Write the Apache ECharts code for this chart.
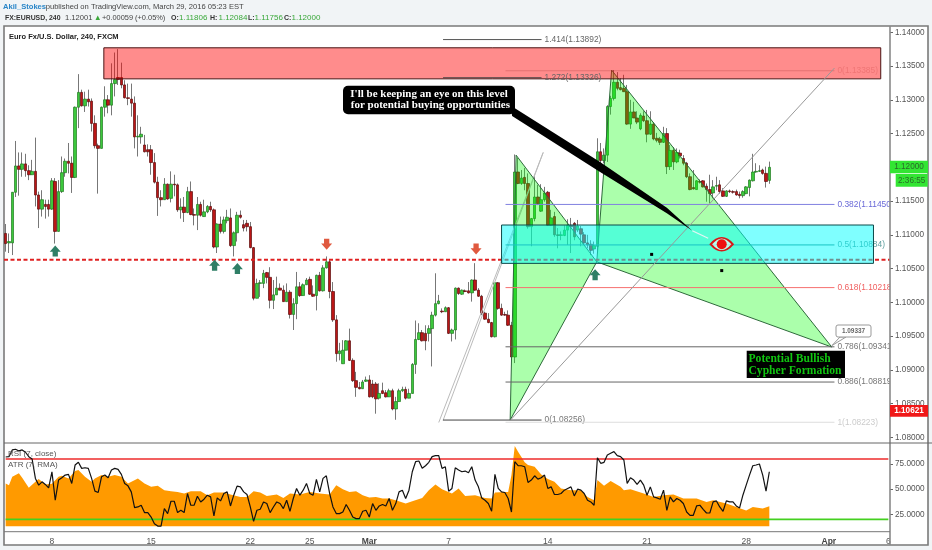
<!DOCTYPE html>
<html><head><meta charset="utf-8">
<script src="https://cdn.jsdelivr.net/npm/echarts@6/dist/echarts.min.js"></script>
<style>html,body{margin:0;padding:0;background:#f1f4f6}#c{width:932px;height:550px}</style>
</head><body><div id="c"></div>
<script>
const opens=[
1.1102,1.1088,1.1088,1.1163,1.1202,1.1197,1.1205,1.1195,1.1189,1.1194,
1.1159,1.1138,1.1145,1.1145,1.1138,1.1179,1.1105,1.1164,1.1192,1.1209,
1.1206,1.1185,1.1289,1.1311,1.1291,1.1301,1.1298,1.1265,1.1232,1.1228,
1.1289,1.1300,1.1292,1.1324,1.1333,1.1333,1.1322,1.1303,1.1301,1.1295,
1.1245,1.1245,1.1233,1.1226,1.1226,1.1207,1.1178,1.1155,1.1152,1.1175,
1.1154,1.1175,1.1174,1.1137,1.1141,1.1133,1.1164,1.1130,1.1129,1.1145,
1.1127,1.1134,1.1142,1.1137,1.1082,1.1116,1.1105,1.1121,1.1125,1.1084,
1.1103,1.1129,1.1115,1.1117,1.1112,1.1081,1.1006,1.1028,1.1028,1.1044,
1.1037,1.1003,1.1011,1.1021,1.1018,1.1001,1.1015,1.0982,1.0998,1.1023,
1.1010,1.1026,1.1034,1.1012,1.1010,1.1040,1.1017,1.1051,1.1060,1.1016,
1.0974,1.0924,1.0909,1.0929,1.0943,1.0914,1.0884,1.0874,1.0872,1.0883,
1.0885,1.0879,1.0879,1.0858,1.0869,1.0866,1.0860,1.0869,1.0842,1.0853,
1.0869,1.0871,1.0858,1.0865,1.0908,1.0945,1.0955,1.0954,1.0954,1.0961,
1.0981,1.0998,1.0987,1.0986,1.0992,1.0954,1.0959,1.1021,1.1012,1.1017,
1.1017,1.1014,1.1033,1.1018,1.1009,1.0984,1.0975,1.0970,1.0949,1.1029,
1.0991,1.0982,1.0981,1.0966,1.0919,1.1193,1.1176,1.1185,1.1176,1.1112,
1.1124,1.1156,1.1135,1.1152,1.1163,1.1114,1.1127,1.1100,1.1099,1.1099,
1.1107,1.1114,1.1117,1.1107,1.1109,1.1100,1.1088,1.1086,1.1079,1.1083,
1.1223,1.1210,1.1218,1.1290,1.1302,1.1326,1.1318,1.1317,1.1312,1.1264,
1.1282,1.1273,1.1257,1.1276,1.1269,1.1249,1.1264,1.1243,1.1242,1.1237,
1.1250,1.1201,1.1225,1.1208,1.1221,1.1213,1.1206,1.1186,1.1170,1.1167,
1.1179,1.1180,1.1172,1.1167,1.1162,1.1172,1.1174,1.1165,1.1157,1.1165,
1.1164,1.1164,1.1160,1.1158,1.1161,1.1170,1.1180,1.1193,1.1194,1.1196,1.1191,1.11806];
const closes=[
1.1087,1.1090,1.1163,1.1202,1.1197,1.1205,1.1195,1.1189,1.1194,1.1159,
1.1138,1.1152,1.1142,1.1138,1.1180,1.1105,1.1164,1.1192,1.1209,1.1206,
1.1185,1.1289,1.1311,1.1291,1.1301,1.1297,1.1265,1.1232,1.1228,1.1289,
1.1300,1.1292,1.1324,1.1330,1.1330,1.1322,1.1303,1.1302,1.1295,1.1245,
1.1246,1.1249,1.1223,1.1223,1.1207,1.1178,1.1155,1.1152,1.1175,1.1153,
1.1175,1.1174,1.1137,1.1141,1.1133,1.1164,1.1130,1.1129,1.1145,1.1129,
1.1134,1.1142,1.1137,1.1082,1.1116,1.1105,1.1122,1.1126,1.1084,1.1103,
1.1129,1.1126,1.1110,1.1112,1.1081,1.1006,1.1028,1.1029,1.1043,1.1037,
1.1003,1.1011,1.1021,1.1018,1.1001,1.1015,1.0982,1.0998,1.1023,1.1010,
1.1026,1.1033,1.1012,1.1009,1.1040,1.1017,1.1051,1.1060,1.1016,1.0974,
1.0924,1.0928,1.0929,1.0943,1.0914,1.0884,1.0874,1.0872,1.0882,1.0885,
1.0860,1.0860,1.0857,1.0865,1.0865,1.0860,1.0869,1.0842,1.0853,1.0869,
1.0871,1.0858,1.0865,1.0908,1.0945,1.0955,1.0943,1.0943,1.0961,1.0981,
1.0998,1.1002,1.0986,1.0992,1.0954,1.0959,1.1021,1.1013,1.1018,1.1016,
1.1014,1.1033,1.1018,1.1009,1.0984,1.0975,1.0970,1.0949,1.1029,1.0991,
1.0981,1.0981,1.0966,1.0919,1.1193,1.1176,1.1184,1.1176,1.1112,1.1124,
1.1156,1.1146,1.1152,1.1162,1.1114,1.1125,1.1100,1.1099,1.1100,1.1107,
1.1114,1.1112,1.1097,1.1113,1.1101,1.1088,1.1085,1.1077,1.1084,1.1223,
1.1210,1.1218,1.1290,1.1302,1.1326,1.1317,1.1315,1.1312,1.1264,1.1282,
1.1273,1.1267,1.1277,1.1269,1.1249,1.1264,1.1242,1.1240,1.1237,1.1250,
1.1201,1.1225,1.1208,1.1222,1.1217,1.1206,1.1186,1.1167,1.1168,1.1180,
1.1178,1.1171,1.1167,1.1161,1.1171,1.1173,1.1164,1.1157,1.1165,1.1164,
1.1163,1.1159,1.1158,1.1164,1.1171,1.1181,1.1193,1.1194,1.1195,1.1191,1.1179,1.1200];
const lows=[
1.1075,1.1073,1.1070,1.1156,1.1158,1.1186,1.1186,1.1181,1.1189,1.1142,
1.1110,1.1127,1.1124,1.1127,1.1137,1.1087,1.1105,1.1162,1.1186,1.1191,
1.1162,1.1184,1.1258,1.1290,1.1282,1.1290,1.1253,1.1228,1.1161,1.1228,
1.1275,1.1280,1.1277,1.1305,1.1322,1.1317,1.1302,1.1292,1.1275,1.1228,
1.1216,1.1235,1.1222,1.1216,1.1189,1.1176,1.1128,1.1142,1.1152,1.1152,
1.1148,1.1157,1.1134,1.1124,1.1119,1.1132,1.1129,1.1114,1.1107,1.1127,
1.1127,1.1132,1.1134,1.1080,1.1073,1.1102,1.1102,1.1117,1.1082,1.1068,
1.1090,1.1124,1.1105,1.1105,1.1080,1.1003,1.1006,1.1008,1.1021,1.1028,
1.0991,1.0990,1.1011,1.1018,1.1001,1.1001,1.0976,1.0959,1.0975,1.1008,
1.1010,1.1026,1.1011,1.1008,1.0988,1.1016,1.1016,1.1050,1.1006,1.0971,
1.0912,1.0914,1.0909,1.0929,1.0913,1.0882,1.0860,1.0871,1.0872,1.0882,
1.0859,1.0858,1.0835,1.0856,1.0864,1.0859,1.0860,1.0840,1.0826,1.0853,
1.0867,1.0856,1.0858,1.0865,1.0894,1.0944,1.0942,1.0929,1.0942,1.0905,
1.0979,1.0997,1.0984,1.0986,1.0953,1.0942,1.0945,1.1011,1.1011,1.1015,
1.1013,1.1001,1.1017,1.1008,1.0981,1.0974,1.0969,1.0948,1.0948,1.0989,
1.0980,1.0980,1.0965,1.0917,1.0910,1.1175,1.1174,1.1166,1.1109,1.1083,
1.1120,1.1144,1.1134,1.1149,1.1113,1.1113,1.1097,1.1080,1.1092,1.1098,
1.1085,1.1073,1.1092,1.1104,1.1083,1.1085,1.1080,1.1070,1.1072,1.1077,
1.1196,1.1206,1.1208,1.1278,1.1299,1.1314,1.1314,1.1312,1.1263,1.1257,
1.1273,1.1264,1.1255,1.1267,1.1237,1.1248,1.1240,1.1237,1.1233,1.1236,
1.1190,1.1196,1.1196,1.1206,1.1213,1.1203,1.1184,1.1166,1.1167,1.1167,
1.1176,1.1170,1.1149,1.1147,1.1154,1.1166,1.1161,1.1156,1.1156,1.1162,
1.1161,1.1158,1.1154,1.1155,1.1160,1.1157,1.1179,1.1192,1.1193,1.1189,1.1170,1.11756];
const highs=[
1.1116,1.1102,1.1163,1.1239,1.1222,1.1222,1.1220,1.1203,1.1211,1.1244,
1.1164,1.1166,1.1152,1.1152,1.1184,1.1184,1.1181,1.1216,1.1213,1.1236,
1.1216,1.1290,1.1338,1.1315,1.1312,1.1315,1.1302,1.1277,1.1235,1.1290,
1.1320,1.1307,1.1354,1.1370,1.1375,1.1355,1.1329,1.1324,1.1324,1.1305,
1.1277,1.1260,1.1248,1.1234,1.1233,1.1221,1.1186,1.1166,1.1184,1.1176,
1.1194,1.1189,1.1176,1.1154,1.1156,1.1171,1.1179,1.1139,1.1156,1.1149,
1.1152,1.1144,1.1149,1.1139,1.1117,1.1127,1.1127,1.1137,1.1139,1.1105,
1.1134,1.1136,1.1122,1.1122,1.1119,1.1082,1.1035,1.1033,1.1048,1.1045,
1.1052,1.1033,1.1038,1.1028,1.1025,1.1028,1.1018,1.1006,1.1045,1.1030,
1.1028,1.1036,1.1038,1.1025,1.1041,1.1045,1.1055,1.1068,1.1064,1.1030,
1.0981,1.0940,1.0944,1.0944,1.0961,1.0917,1.0897,1.0882,1.0885,1.0890,
1.0892,1.0885,1.0882,1.0880,1.0881,1.0870,1.0872,1.0872,1.0860,1.0872,
1.0875,1.0875,1.0872,1.0910,1.0973,1.0969,1.0959,1.0966,1.0966,1.0986,
1.1043,1.1011,1.0991,1.0994,1.0993,1.0961,1.1022,1.1022,1.1019,1.1019,
1.1030,1.1034,1.1058,1.1021,1.1011,1.0986,1.0984,1.0971,1.1030,1.1030,
1.0998,1.0986,1.0988,1.0971,1.1219,1.1214,1.1196,1.1199,1.1191,1.1125,
1.1189,1.1174,1.1175,1.1171,1.1165,1.1137,1.1134,1.1110,1.1105,1.1114,
1.1123,1.1125,1.1119,1.1122,1.1113,1.1104,1.1100,1.1092,1.1090,1.1243,
1.1236,1.1228,1.1292,1.1306,1.1344,1.1341,1.1332,1.1337,1.1322,1.1300,
1.1297,1.1283,1.1280,1.1283,1.1285,1.1283,1.1267,1.1251,1.1245,1.1260,
1.1258,1.1233,1.1230,1.1228,1.1226,1.1218,1.1208,1.1191,1.1196,1.1181,
1.1182,1.1181,1.1176,1.1189,1.1181,1.1186,1.1181,1.1169,1.1166,1.1167,
1.1166,1.1167,1.1164,1.1166,1.1172,1.1182,1.1220,1.1206,1.1203,1.1198,1.1201,1.12084];
const rsiValues=[
82,82.3,89,89.7,88,89,86.7,82.3,80,60.7,54,57.3,54.7,51.3,67.3,39,59,61.3,64,64.7,
55.7,74,76.7,70.7,71.3,70.7,60.7,48,46.7,62.3,64,61.3,69,70.7,69.7,64.7,55.7,53.3,47.3,31.7,
32.3,34,26.7,26.7,22.3,15.7,13.3,13.3,30.7,25.7,38,38,26.7,29,26.7,45.7,34,34,43,37.3,
40,44,42.3,23.3,41.3,38.3,45.7,47.3,33.3,44,53,52.3,47.3,44.7,32.3,18,29,30,37.3,35.7,
26.7,32.3,37.3,35.7,30.7,39,28,40.7,50.7,44,49,55.7,45.7,44,59.7,47.3,60.7,63.3,45.7,32.3,
25.7,25.7,27.3,34.7,29,22.3,20.7,20.7,28,29,22.3,35.7,29,33.3,34.7,33.3,40.7,29,35.7,47.3,
49,40.7,49,67.3,77.3,78,70.7,73.3,76.7,82.3,83.3,83.3,70.7,72.3,48,50.7,71.3,69,67.3,68,
66.3,72.3,59,52.3,41.3,39,35.7,28,64.7,50.7,47.3,46.7,40.7,27.3,77.3,73.3,73.3,72.3,56.7,59,
63.3,60,61.3,64,50.7,52.3,44.7,44.7,45.7,49,50.7,52.3,43.3,50,49,45.7,39,37.3,34,81.3,
75.7,76.7,84,85.7,87.3,83.3,82.3,79,55.7,61.3,59,54.7,59,54,44,52.3,42.3,41.3,40,49,
29,42.3,37.3,40.7,39,35.7,27.3,24,24,33.3,34,30,26.3,26.3,37.3,38.3,32.3,28,38.3,37.3,
37.3,33.3,31.3,44,54,64,73.3,74,75,64,48,67.3];
const atrBars=[0,1,2,4,5,7,9,10,12,14,16,17,19,21,22,24,26,27,29,31,33,35,37,40,42,44,46,48,50,52,54,56,59,61,63,66,68,71,73,75,77,79,82,84,86,89,92,95,98,100,102,104,106,108,110,112,114,116,118,121,123,126,128,130,132,135,137,139,142,145,147,148,151,152,153,154,155,157,158,160,162,164,166,168,171,174,176,178,179,181,183,186,187,189,193,196,199,202,205,209,212,214,218,221,224,226,229,231];
const atrValues=[55.7,54,62.3,65.7,61.3,51.3,57.3,60,54.7,55.3,62.3,63.3,60.7,68,69,62.3,57.3,60.7,64,62.3,64,62.3,55.7,60.7,55.7,52.3,53.3,49,48,47.3,45.7,48,48,44,46.7,46.7,44.7,42.3,42.3,48,46.7,43.3,44.7,41.3,45.7,44.7,47.3,45.7,44.7,54,50,47.3,48,44,41.7,42.3,40.7,40.7,39,35.7,38,41.3,49,54.7,50,45.7,50.7,43.3,44,41.3,40.7,46.7,47.3,47.3,64,93,87.3,76.7,74,72.3,64.7,60,57.3,50.7,49,49,42.3,39,59,53.3,58,52.3,49,50,45.7,42.3,44,44.7,40.7,40.7,37.3,39,35.7,32.3,28.7,32.3,30.7,33];
const rsiUpper=[80];
const rsiLower=[20];
const atrFloor=[13];

const tickBars=[14,44,74,92,110,134,164,194,224,249,267];
const tickLabels=['8','15','22','25','Mar','7','14','21','28','Apr','6'];
const priceTicks=[1.08,1.085,1.09,1.095,1.10,1.105,1.11,1.115,1.12,1.125,1.13,1.135,1.14];
const rsiTicks=[25,50,75];

const redZoneBars=[29.7,264.7,264.7,29.7];
const redZonePrices=[1.1377,1.1377,1.1331,1.1331];
const cyanZoneBars=[150,262.5,262.5,150];
const cyanZonePrices=[1.11145,1.11145,1.10577,1.10577];
const xabBars=[152.6,154.4,178.8];
const xabPrices=[1.08256,1.1218,1.1060];
const bcdBars=[178.8,183.3,249.9];
const bcdPrices=[1.1060,1.1344,1.09337];
const calloutArrowBars=[152.6,179.8,200,207.7,200,179.8,153.2];
const calloutArrowPrices=[1.1292,1.1208,1.1140,1.1106,1.1132,1.1193,1.1276];
const calloutTipBars=[207.7,212.5];
const calloutTipPrices=[1.1106,1.1095];
const supportBars=[-0.5,267.5];
const supportPrices=[1.1063,1.1063];
const trendABars=[131,162.6];
const trendAPrices=[1.0822,1.1222];
const trendBBars=[132.3,162.6];
const trendBPrices=[1.0825,1.1222];
const trendCBars=[152.6,250.7];
const trendCPrices=[1.0825,1.1347];

const fibTexts=['1.414(1.13892)','1.272(1.13326)','0(1.08256)','0(1.13385)','0.382(1.11450)','0.5(1.10884)','0.618(1.10218)','0.786(1.09341)','0.886(1.08819)','1(1.08223)'];
const fibPrices=[1.13892,1.13326,1.08256,1.1343,1.1145,1.1085,1.10218,1.09341,1.08819,1.08223];
const fibFrom=[132.3,132.3,132.3,151.2,151.2,151.2,151.2,151.2,151.2,151.2];
const fibTo=[162.1,162.1,162.1,250.7,250.7,250.7,250.7,250.7,250.7,250.7];
const fibLineColors=['#555','#444','#444','rgba(150,40,40,.25)','#8080e0','#2f8a8a','#f77070','#666','#666','#ddd'];
const fibTextColors=['#666','#666','#777','rgba(220,90,90,.45)','#6a6ad8','#5f9f9f','#f06060','#777','#777','#ccc'];

const upArrowBars=[15,63.2,70.1,178.3];
const upArrowPrices=[1.1076,1.1055,1.1050,1.1041];
const downArrowBars=[97.1,142.3];
const downArrowPrices=[1.1086,1.1079];
const dotBars=[195.4,216.6];
const dotPrices=[1.1071,1.1047];
const eyeBars=[216.6];
const eyePrices=[1.1086];

const chart=echarts.init(document.getElementById('c'),null,{renderer:'canvas',width:932,height:550});
const FONT='"Liberation Sans",Arial,sans-serif';
const barCount=268;
const categoriesAll=Array.from({length:barCount},(_,i)=>{const k=tickBars.indexOf(i);return k<0?'':tickLabels[k];});
const candleRows=opens.map((o,i)=>[o,closes[i],lows[i],highs[i]]);
const bodyRows=opens.map((o,i)=>[o,closes[i],Math.min(o,closes[i]),Math.max(o,closes[i])]);

function polySeries(bars,prices,style,z,closed){
  const rows=bars.map((b,k)=>[b,prices[k]]);
  return {type:'custom',xAxisIndex:1,yAxisIndex:0,z,clip:true,silent:true,data:rows,
    renderItem(params,api){
      if(params.dataIndex!==0)return null;
      const points=rows.map(r=>api.coord(r));
      return {type:closed?'polygon':'polyline',shape:{points},style:Object.assign({},style),z2:1};
    }};
}
const fibRows=fibPrices.map((p,i)=>[fibFrom[i],fibTo[i],p,i]);
const fibSeries={type:'custom',xAxisIndex:1,yAxisIndex:0,z:6,clip:true,silent:true,data:fibRows,encode:{x:0,y:2},
  renderItem(params,api){
    const r=fibRows[params.dataIndex];
    const a=api.coord([r[0],r[2]]),b=api.coord([r[1],r[2]]);
    return {type:'group',children:[
      {type:'line',shape:{x1:a[0],y1:a[1],x2:b[0],y2:b[1]},style:{stroke:fibLineColors[r[3]],lineWidth:1}},
      {type:'text',style:{x:b[0]+3,y:b[1],text:fibTexts[r[3]],fill:fibTextColors[r[3]],font:'8.4px '+FONT,verticalAlign:'middle'}}
    ]};
  }};
const catchBars=(bars,prices)=>bars.map((b,k)=>[b,prices[k]]);
const arrowPath='path://M5,0 L10,5.6 L7.4,5.6 L7.4,10 L2.6,10 L2.6,5.6 L0,5.6 Z';

const option={
  animation:false,backgroundColor:'#f1f4f6',
  grid:[{left:4,top:26,width:886,height:417},{left:4,top:443,width:886,height:88.7}],
  xAxis:[
    {type:'category',gridIndex:0,data:categoriesAll,boundaryGap:true,show:false},
    {type:'value',gridIndex:0,min:-0.5,max:267.5,show:false},
    {type:'category',gridIndex:1,data:categoriesAll,boundaryGap:true,
      axisLine:{show:false},
      axisTick:{alignWithLabel:true,interval:(i,v)=>v!=='',length:3,lineStyle:{color:'#666'}},
      axisLabel:{interval:(i,v)=>v!=='',hideOverlap:false,margin:5,color:'#555',fontFamily:FONT,fontSize:8.5,
        formatter:v=>(v==='Mar'||v==='Apr')?'{b|'+v+'}':v,rich:{b:{fontWeight:'bold',color:'#444',fontFamily:FONT,fontSize:8.5}}}}
  ],
  yAxis:[
    {type:'value',gridIndex:0,position:'right',min:1.07916,max:1.14093,splitLine:{show:false},
      axisLine:{show:false,onZero:false},
      axisTick:{show:true,customValues:priceTicks,length:3,lineStyle:{color:'#666'}},
      axisLabel:{customValues:priceTicks,formatter:v=>v.toFixed(5),color:'#555',fontFamily:FONT,fontSize:8.2,margin:5}},
    {type:'value',gridIndex:1,position:'right',min:7.7,max:95.9,splitLine:{show:false},
      axisLine:{show:false,onZero:false},
      axisTick:{show:true,customValues:rsiTicks,length:3,lineStyle:{color:'#666'}},
      axisLabel:{customValues:rsiTicks,formatter:v=>v.toFixed(4),color:'#555',fontFamily:FONT,fontSize:8.2,margin:5}}
  ],
  series:[
    {type:'candlestick',xAxisIndex:0,yAxisIndex:0,z:2,barWidth:1,data:candleRows,silent:true,
      itemStyle:{color:'#777',color0:'#777',borderColor:'#777',borderColor0:'#777',borderWidth:1}},
    {type:'candlestick',xAxisIndex:0,yAxisIndex:0,z:3,barWidth:3,data:bodyRows,silent:true,
      itemStyle:{color:'#3cc83c',color0:'#bb1616',borderColor:'#1f7a1f',borderColor0:'#5c0c0c',borderWidth:0.7}},
    polySeries(trendABars,trendAPrices,{stroke:'#bbb',lineWidth:1,fill:null},4,false),
    polySeries(trendBBars,trendBPrices,{stroke:'#bbb',lineWidth:1,fill:null},4,false),
    polySeries(xabBars,xabPrices,{fill:'rgba(0,255,0,.33)',stroke:'#2d6a3a',lineWidth:1},5,true),
    polySeries(bcdBars,bcdPrices,{fill:'rgba(0,255,0,.33)',stroke:'#2d6a3a',lineWidth:1},5,true),
    polySeries(redZoneBars,redZonePrices,{fill:'rgba(255,0,0,.45)',stroke:'#4a1414',lineWidth:1},5,true),
    polySeries(supportBars,supportPrices,{stroke:'#e02020',lineWidth:2,lineDash:[4,2.5],fill:null},5.5,false),
    fibSeries,
    polySeries(cyanZoneBars,cyanZonePrices,{fill:'rgba(0,255,255,.5)',stroke:'#0d4a4a',lineWidth:1},6,true),
    polySeries(trendCBars,trendCPrices,{stroke:'#999',lineWidth:1,fill:null},7,false),
    polySeries(calloutArrowBars,calloutArrowPrices,{fill:'#000'},8,true),
    polySeries(calloutTipBars,calloutTipPrices,{stroke:'#e6f5f5',lineWidth:1.2,fill:null},8,false),
    {type:'scatter',xAxisIndex:1,yAxisIndex:0,z:9,silent:true,symbol:arrowPath,symbolSize:11,data:catchBars(upArrowBars,upArrowPrices),itemStyle:{color:'#2f7f66',opacity:1}},
    {type:'scatter',xAxisIndex:1,yAxisIndex:0,z:9,silent:true,symbol:arrowPath,symbolRotate:180,symbolSize:11,data:catchBars(downArrowBars,downArrowPrices),itemStyle:{color:'#e0593f',opacity:1}},
    {type:'scatter',xAxisIndex:1,yAxisIndex:0,z:9,silent:true,symbol:'rect',symbolSize:3,data:catchBars(dotBars,dotPrices),itemStyle:{color:'#000',opacity:1}},
    {type:'scatter',xAxisIndex:1,yAxisIndex:0,z:9,silent:true,symbol:'path://M0,50 Q50,-10 100,50 Q50,110 0,50 Z',symbolSize:[22,13],data:catchBars(eyeBars,eyePrices),itemStyle:{color:'rgba(255,255,255,.6)',borderColor:'#d81818',borderWidth:2,opacity:1}},
    {type:'scatter',xAxisIndex:1,yAxisIndex:0,z:10,silent:true,symbol:'circle',symbolSize:10,data:catchBars(eyeBars,eyePrices),itemStyle:{color:'#ee1111',opacity:1}},
    {type:'line',xAxisIndex:2,yAxisIndex:1,z:2,silent:true,symbol:'none',data:atrBars.map((b,k)=>[b,atrValues[k]]),
      lineStyle:{width:0},areaStyle:{color:'#ff9a00',opacity:1,origin:atrFloor[0]}},
    {type:'line',xAxisIndex:2,yAxisIndex:1,z:3,silent:true,symbol:'none',data:[[0,rsiUpper[0]],[267,rsiUpper[0]]],lineStyle:{color:'#ee2b2b',width:1.4}},
    {type:'line',xAxisIndex:2,yAxisIndex:1,z:3,silent:true,symbol:'none',data:[[0,rsiLower[0]],[267,rsiLower[0]]],lineStyle:{color:'#44d020',width:1.6}},
    {type:'line',xAxisIndex:2,yAxisIndex:1,z:4,silent:true,symbol:'none',data:rsiValues,lineStyle:{color:'#111',width:1.2}}
  ],
  graphic:{elements:[
    {type:'rect',z:-1,silent:true,shape:{x:4,y:26,width:924,height:519},style:{fill:'#fff',stroke:'#7a7a7a',lineWidth:1.6}},
    {type:'line',z:20,silent:true,shape:{x1:890,y1:26,x2:890,y2:545},style:{stroke:'#8a8a8a',lineWidth:1.6}},
    {type:'line',z:20,silent:true,shape:{x1:4,y1:443,x2:932,y2:443},style:{stroke:'#666',lineWidth:1}},
    {type:'line',z:20,silent:true,shape:{x1:4,y1:531.7,x2:890,y2:531.7},style:{stroke:'#777',lineWidth:1}},
    {type:'text',z:30,silent:true,style:{x:3,y:7,verticalAlign:'middle',text:'Akil_Stokes',fill:'#2a86c8',font:'bold 7.6px '+FONT}},
    {type:'text',z:30,silent:true,style:{x:45.7,y:7,verticalAlign:'middle',text:'published on TradingView.com, March 29, 2016 05:23 EST',fill:'#444',font:'7.6px '+FONT}},
    {type:'text',z:30,silent:true,style:{x:5,y:18,verticalAlign:'middle',text:'FX:EURUSD, 240',fill:'#333',font:'bold 6.9px '+FONT}},
    {type:'text',z:30,silent:true,style:{x:65,y:18,verticalAlign:'middle',text:'1.12001',fill:'#444',font:'7.6px '+FONT}},
    {type:'text',z:30,silent:true,style:{x:94,y:18,verticalAlign:'middle',text:'▲',fill:'#3aa83a',font:'7.6px '+FONT}},
    {type:'text',z:30,silent:true,style:{x:102,y:18,verticalAlign:'middle',text:'+0.00059 (+0.05%)',fill:'#444',font:'7.4px '+FONT}},
    {type:'text',z:30,silent:true,style:{x:171,y:18,verticalAlign:'middle',text:'O:',fill:'#333',font:'bold 7px '+FONT}},
    {type:'text',z:30,silent:true,style:{x:179,y:18,verticalAlign:'middle',text:'1.11806',fill:'#3aa83a',font:'8px '+FONT}},
    {type:'text',z:30,silent:true,style:{x:210,y:18,verticalAlign:'middle',text:'H:',fill:'#333',font:'bold 7px '+FONT}},
    {type:'text',z:30,silent:true,style:{x:218.5,y:18,verticalAlign:'middle',text:'1.12084',fill:'#3aa83a',font:'8px '+FONT}},
    {type:'text',z:30,silent:true,style:{x:248,y:18,verticalAlign:'middle',text:'L:',fill:'#333',font:'bold 7px '+FONT}},
    {type:'text',z:30,silent:true,style:{x:254.5,y:18,verticalAlign:'middle',text:'1.11756',fill:'#3aa83a',font:'8px '+FONT}},
    {type:'text',z:30,silent:true,style:{x:284,y:18,verticalAlign:'middle',text:'C:',fill:'#333',font:'bold 7px '+FONT}},
    {type:'text',z:30,silent:true,style:{x:291.5,y:18,verticalAlign:'middle',text:'1.12000',fill:'#3aa83a',font:'8px '+FONT}},
    {type:'text',z:30,silent:true,style:{x:9,y:37,verticalAlign:'middle',text:'Euro Fx/U.S. Dollar, 240, FXCM',fill:'#222',font:'bold 7.5px '+FONT}},
    {type:'text',z:30,silent:true,style:{x:8,y:454,verticalAlign:'middle',text:'RSI (7, close)',fill:'#555',font:'8px '+FONT}},
    {type:'text',z:30,silent:true,style:{x:8,y:464.5,verticalAlign:'middle',text:'ATR (7, RMA)',fill:'#555',font:'8px '+FONT}},
    {type:'rect',z:30,silent:true,shape:{x:343,y:85.7,width:172,height:28.5,r:5},style:{fill:'#000'}},
    {type:'text',z:31,silent:true,style:{x:429,y:100,align:'center',verticalAlign:'middle',lineHeight:11,text:"I'll be keeping an eye on this level\n for potential buying opportunities",fill:'#fff',font:'bold 11px "Liberation Serif",serif'}},
    {type:'rect',z:30,silent:true,shape:{x:746.7,y:350.7,width:98.3,height:27.3},style:{fill:'#000'}},
    {type:'text',z:31,silent:true,style:{x:748.5,y:365.2,verticalAlign:'middle',lineHeight:12.3,text:'Potential Bullish\nCypher Formation',fill:'#11c411',font:'bold 11.6px "Liberation Serif",serif'}},
    {type:'polygon',z:30,silent:true,shape:{points:[[840,337],[832,345.5],[846,337]]},style:{fill:'#fff',stroke:'#999',lineWidth:1}},
    {type:'rect',z:30,silent:true,shape:{x:836,y:325,width:35,height:12,r:2},style:{fill:'#fff',stroke:'#999',lineWidth:1}},
    {type:'text',z:31,silent:true,style:{x:853.5,y:331,align:'center',verticalAlign:'middle',text:'1.09337',fill:'#666',font:'bold 6.4px '+FONT}},
    {type:'rect',z:30,silent:true,shape:{x:890,y:160.7,width:38,height:12.6},style:{fill:'#33e533'}},
    {type:'text',z:31,silent:true,style:{x:909,y:167,align:'center',verticalAlign:'middle',text:'1.12000',fill:'#2a6a2a',font:'8.2px '+FONT}},
    {type:'rect',z:30,silent:true,shape:{x:895.7,y:174,width:32,height:12.7},style:{fill:'#33e533'}},
    {type:'text',z:31,silent:true,style:{x:911.7,y:180.5,align:'center',verticalAlign:'middle',text:'2:36:55',fill:'#2a6a2a',font:'8.2px '+FONT}},
    {type:'rect',z:30,silent:true,shape:{x:890,y:405,width:38,height:11.8},style:{fill:'#f01818'}},
    {type:'text',z:31,silent:true,style:{x:909,y:411,align:'center',verticalAlign:'middle',text:'1.10621',fill:'#fff',font:'bold 8.2px '+FONT}}
  ]}
};
chart.setOption(option);
</script></body></html>
